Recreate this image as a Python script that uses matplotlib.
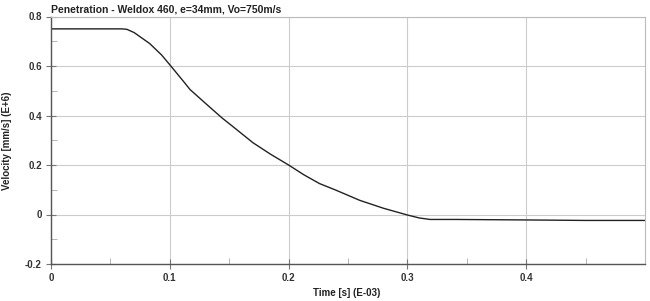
import numpy as np
import matplotlib
matplotlib.use('Agg')
import matplotlib.pyplot as plt
from matplotlib.ticker import MultipleLocator

# velocity curve
time_ms = [0.0, 0.03, 0.060, 0.064, 0.070, 0.083, 0.093, 0.100, 0.106, 0.112, 0.117,
           0.124, 0.131, 0.144, 0.155, 0.170, 0.185, 0.200, 0.213, 0.226, 0.240,
           0.260, 0.280, 0.300, 0.310, 0.319, 0.340, 0.400, 0.450, 0.500]
velocity = [0.750, 0.750, 0.750, 0.748, 0.735, 0.691, 0.645, 0.605, 0.570, 0.535, 0.505,
            0.475, 0.445, 0.390, 0.348, 0.290, 0.243, 0.200, 0.160, 0.125, 0.098,
            0.057, 0.025, -0.002, -0.014, -0.020, -0.020, -0.022, -0.024, -0.024]

title = 'Penetration - Weldox 460, e=34mm, Vo=750m/s'
xlabel = 'Time [s] (E-03)'
ylabel = 'Velocity [mm/s] (E+6)'

plt.rcParams['font.family'] = ['Liberation Sans', 'DejaVu Sans']

fig = plt.figure(figsize=(6.5, 3.01), dpi=100)
ax = fig.add_axes([51 / 650, 1 - 264 / 301, 594 / 650, 247.5 / 301])

ax.plot(time_ms, velocity, color='#222222', linewidth=1.0)

ax.set_xlim(0, 0.5)
ax.set_ylim(-0.2, 0.8)
ax.xaxis.set_minor_locator(MultipleLocator(0.05))
ax.yaxis.set_minor_locator(MultipleLocator(0.1))
ax.set_xticks([0, 0.1, 0.2, 0.3, 0.4])
ax.set_xticklabels(['0', '0.1', '0.2', '0.3', '0.4'])
ax.set_yticks([-0.2, 0, 0.2, 0.4, 0.6, 0.8])
ax.set_yticklabels(['-0.2', '0', '0.2', '0.4', '0.6', '0.8'])

ax.grid(which='major', color='#cccccc', linewidth=0.8)
ax.tick_params(which='major', direction='inout', length=7, color='#777777',
               labelsize=7, labelcolor='#333333', pad=3)
ax.tick_params(which='minor', direction='in', length=4, color='#aaaaaa')
for lab in ax.get_xticklabels() + ax.get_yticklabels():
    lab.set_fontweight('bold')

for side in ['left', 'bottom']:
    ax.spines[side].set_color('#555555')
    ax.spines[side].set_linewidth(1.0)
for side in ['right', 'top']:
    ax.spines[side].set_color('#bbbbbb')
    ax.spines[side].set_linewidth(0.8)

ax.set_title(title, fontsize=7.5, fontweight='bold', color='#222222', loc='left', pad=3)
ax.set_xlabel(xlabel, fontsize=7, fontweight='bold', color='#222222')
ax.set_ylabel(ylabel, fontsize=7, fontweight='bold', color='#222222')
ax.xaxis.set_label_coords(0.498, -0.095)
ax.yaxis.set_label_coords(-0.066, 0.5)

fig.savefig('out.png', dpi=100)
